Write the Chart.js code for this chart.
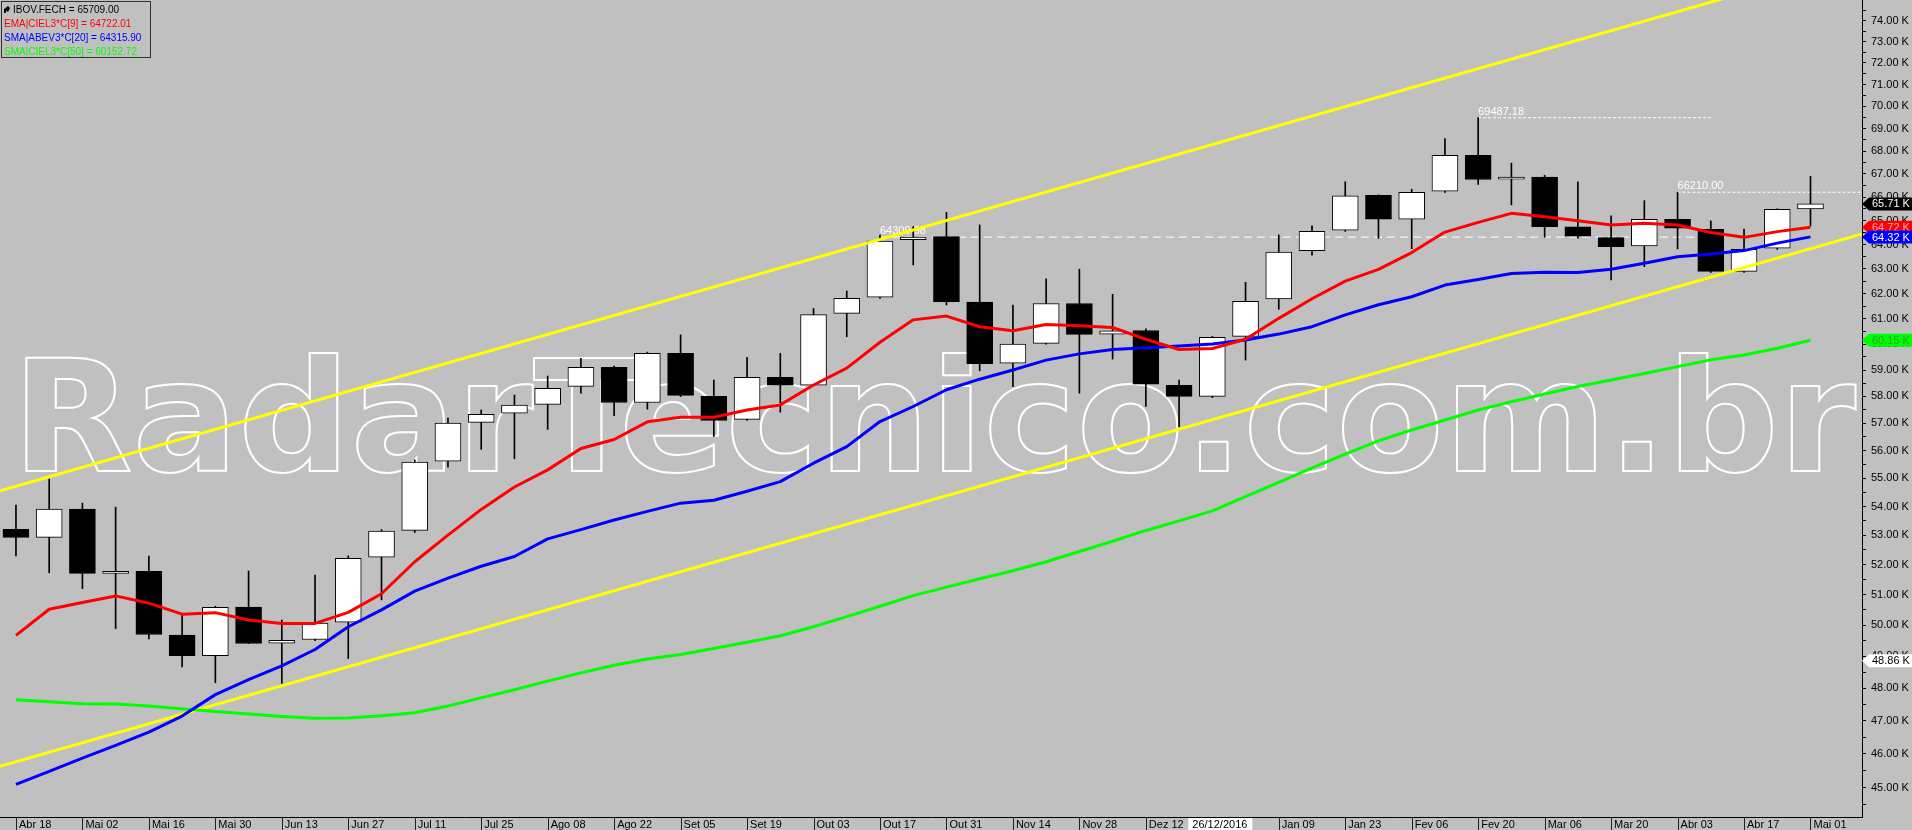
<!DOCTYPE html>
<html>
<head>
<meta charset="utf-8">
<script src="https://cdn.jsdelivr.net/npm/chart.js@4.4.0/dist/chart.umd.min.js"></script>
<style>
  html, body { margin: 0; padding: 0; background: #c0c0c0; }
  canvas { display: block; }
</style>
</head>
<body>
<canvas id="myChart" width="1912" height="830"></canvas>
<script>
// Semanas (candles semanais do IBOV)
const weeks = ['Abr 18','Abr 25','Mai 02','Mai 09','Mai 16','Mai 23','Mai 30','Jun 06','Jun 13','Jun 20','Jun 27','Jul 04','Jul 11','Jul 18','Jul 25','Ago 01','Ago 08','Ago 15','Ago 22','Ago 29','Set 05','Set 12','Set 19','Set 26','Out 03','Out 10','Out 17','Out 24','Out 31','Nov 07','Nov 14','Nov 21','Nov 28','Dez 05','Dez 12','Dez 19','Dez 26','Jan 02','Jan 09','Jan 16','Jan 23','Jan 30','Fev 06','Fev 13','Fev 20','Fev 27','Mar 06','Mar 13','Mar 20','Mar 27','Abr 03','Abr 10','Abr 17','Abr 24','Mai 01'];

// valores em milhares de pontos (K)
const openK  = [53.21,52.93,53.91,51.71,51.78,49.68,49.02,50.59,49.42,49.54,50.10,52.26,53.17,55.61,57.03,57.37,57.70,58.38,59.10,57.77,59.64,58.00,57.14,58.72,58.42,61.21,61.85,64.20,64.33,61.66,59.26,60.03,61.60,60.39,60.53,58.42,58.00,60.30,61.78,63.75,64.60,66.08,65.06,66.25,67.81,66.77,66.86,64.74,64.29,63.94,65.06,64.64,62.90,63.85,65.50];
const highK  = [54.05,54.97,54.12,53.98,52.29,50.36,50.62,51.79,50.17,51.65,52.30,53.20,55.66,57.19,57.49,58.05,58.77,59.45,59.15,59.69,60.36,58.62,59.49,59.64,61.40,62.10,64.40,64.75,65.35,64.82,61.54,62.59,62.99,61.97,60.60,58.62,60.30,62.45,64.40,64.78,66.66,66.10,66.34,68.55,69.49,67.47,66.94,66.66,65.20,65.85,66.21,64.99,64.65,65.50,66.90];
const lowK   = [52.30,51.73,51.20,49.89,49.56,48.67,48.17,49.41,48.15,49.50,48.93,50.83,53.10,55.40,56.04,55.70,56.77,58.12,57.28,57.52,57.99,56.51,57.10,57.41,58.40,60.29,61.80,63.16,61.54,58.97,58.37,60.00,58.12,59.42,57.62,56.86,57.95,59.38,61.37,63.56,64.55,64.26,63.83,66.20,66.55,65.67,64.30,64.27,62.55,63.09,63.82,62.85,62.85,63.80,64.78];
const closeK = [52.93,53.91,51.71,51.78,49.70,49.02,50.58,49.41,49.51,50.07,52.22,53.15,55.58,57.00,57.33,57.67,58.30,59.10,57.77,59.64,58.04,57.10,58.72,58.42,61.16,61.81,64.15,64.31,61.67,59.24,60.00,61.60,60.38,60.52,58.46,58.00,60.26,61.69,63.69,64.55,66.06,65.06,66.21,67.81,66.76,66.86,64.75,64.35,63.91,65.06,64.68,62.90,63.80,65.48,65.71];

// medias moveis
const ema9  = [49.67,50.52,50.74,50.96,50.72,50.36,50.41,50.17,50.06,50.06,50.42,51.03,52.10,53.01,53.90,54.69,55.30,56.07,56.40,57.05,57.22,57.22,57.49,57.68,58.43,59.07,60.07,60.95,61.10,60.68,60.52,60.77,60.72,60.65,60.19,59.79,59.83,60.19,61.01,61.79,62.50,62.98,63.67,64.52,64.93,65.31,65.17,65.00,64.82,64.89,64.82,64.50,64.30,64.54,64.72];
const sma20 = [45.10,45.48,45.87,46.25,46.65,47.14,47.80,48.27,48.70,49.22,49.95,50.50,51.12,51.55,51.95,52.28,52.88,53.20,53.53,53.83,54.12,54.22,54.54,54.88,55.54,56.14,57.06,57.62,58.25,58.65,59.00,59.38,59.62,59.79,59.86,59.93,60.00,60.16,60.39,60.68,61.15,61.55,61.87,62.34,62.57,62.81,62.86,62.85,62.98,63.23,63.50,63.61,63.75,64.06,64.32];
const sma50 = [47.64,47.58,47.52,47.51,47.45,47.36,47.28,47.20,47.13,47.07,47.08,47.15,47.24,47.45,47.70,47.95,48.22,48.48,48.72,48.92,49.06,49.25,49.45,49.66,49.95,50.28,50.62,50.97,51.25,51.53,51.80,52.10,52.45,52.80,53.17,53.50,53.85,54.35,54.85,55.37,55.87,56.35,56.75,57.12,57.49,57.80,58.09,58.37,58.62,58.87,59.13,59.39,59.58,59.84,60.15];

// canal (linhas amarelas): extremos em indice de semana e preco
const channelX      = [-0.48, 55.55];
const channelTop    = [54.55, 77.02];
const channelBottom = [45.63, 64.44];

// niveis tracejados
const levelText  = ['64309.98', '69487.18', '66210.00'];
const levelValue = [64.30998, 69.48718, 66.21];
const levelFrom  = [26, 44, 50];
const levelTo    = [51, 51, 55.55];

const priceTicks = [45,46,47,48,49,50,51,52,53,54,55,56,57,58,59,60,61,62,63,64,65,66,67,68,69,70,71,72,73,74];
const legendText = ['IBOV.FECH = 65709.00', 'EMA|CIEL3*C[9] = 64722.01', 'SMA|ABEV3*C[20] = 64315.90', 'SMA|CIEL3*C[50] = 60152.72'];
const tagValue = [65.709, 64.72201, 64.3159, 60.15272, 48.86];
const crossDate = '26/12/2016';
const crossIndex = 36;

const FONT = '"Liberation Sans", Arial, sans-serif';
const xTicks = weeks.map((w, i) => i).filter(i => i % 2 === 0);
const yTicks = priceTicks.concat(priceTicks.map(v => v - 0.5), [74.5]).sort((a, b) => a - b);

const upColor = closeK.map((c, i) => c >= openK[i] ? '#ffffff' : '#000000');

function lineSet(values, color) {
    return {
        type: 'line',
        data: values.map((v, i) => ({ x: i, y: v })),
        borderColor: color,
        borderWidth: 3,
        pointRadius: 0,
        tension: 0,
        borderJoinStyle: 'round',
        order: 0
    };
}

function levelSet(k, dash) {
    return {
        type: 'line',
        data: [{ x: levelFrom[k], y: levelValue[k] }, { x: levelTo[k], y: levelValue[k] }],
        borderColor: '#ffffff',
        borderWidth: 1,
        borderDash: dash,
        pointRadius: 0,
        order: 3
    };
}

function tag(ctx, y, bg, fg, text) {
    ctx.save();
    ctx.beginPath();
    ctx.moveTo(1862, y);
    ctx.lineTo(1869, y - 6.5);
    ctx.lineTo(1912, y - 6.5);
    ctx.lineTo(1912, y + 6.5);
    ctx.lineTo(1869, y + 6.5);
    ctx.closePath();
    ctx.fillStyle = bg;
    ctx.fill();
    ctx.fillStyle = fg;
    ctx.font = '11px ' + FONT;
    ctx.textBaseline = 'middle';
    ctx.textAlign = 'left';
    ctx.fillText(text, 1872, y + 0.5);
    ctx.restore();
}

// desenhos extras: fundo, marca d'agua, legenda, etiquetas
const extras = {
    id: 'extras',
    beforeDraw(chart) {
        const ctx = chart.ctx;
        ctx.save();
        ctx.fillStyle = '#c0c0c0';
        ctx.fillRect(0, 0, chart.width, chart.height);
        ctx.restore();
    },
    beforeDatasetsDraw(chart) {
        const ctx = chart.ctx;
        const x = chart.scales.x, y = chart.scales.y;
        ctx.save();
        ctx.font = 'bold 155px "DejaVu Sans", sans-serif';
        const w = ctx.measureText('RadarTecnico.com.br').width;
        ctx.translate(12, 471);
        ctx.scale(1844 / w, 1);
        ctx.strokeStyle = '#ffffff';
        ctx.lineWidth = 2;
        ctx.strokeText('RadarTecnico.com.br', 0, 0);
        ctx.restore();

        ctx.save();
        ctx.font = '11px ' + FONT;
        ctx.fillStyle = '#ffffff';
        ctx.textBaseline = 'bottom';
        levelText.forEach((t, k) => {
            ctx.fillText(t, x.getPixelForValue(levelFrom[k]), y.getPixelForValue(levelValue[k]) - 0.5);
        });
        ctx.restore();
    },
    afterDraw(chart) {
        const ctx = chart.ctx;
        const x = chart.scales.x, y = chart.scales.y;
        const area = chart.chartArea;

        // separadores do eixo de datas
        ctx.save();
        ctx.strokeStyle = '#202020';
        ctx.lineWidth = 1;
        xTicks.forEach(i => {
            if (i === crossIndex) return;
            const px = Math.round(x.getPixelForValue(i)) + 0.5;
            ctx.beginPath();
            ctx.moveTo(px, area.bottom);
            ctx.lineTo(px, chart.height);
            ctx.stroke();
        });
        const cx = x.getPixelForValue(crossIndex);
        ctx.fillStyle = '#ffffff';
        ctx.fillRect(cx - 24, area.bottom + 1, 64, chart.height - area.bottom - 1);
        ctx.fillStyle = '#000000';
        ctx.font = '11px ' + FONT;
        ctx.textBaseline = 'middle';
        ctx.fillText(crossDate, cx - 20, area.bottom + 7.5);
        ctx.restore();

        // etiquetas de preco no eixo
        const fmt = v => v.toFixed(2) + ' K';
        tag(ctx, y.getPixelForValue(tagValue[0]), '#000000', '#ffffff', fmt(tagValue[0]));
        tag(ctx, y.getPixelForValue(tagValue[1]), '#ff0000', '#ffb0b0', fmt(tagValue[1]));
        tag(ctx, y.getPixelForValue(tagValue[2]), '#0000ff', '#ffffff', fmt(tagValue[2]));
        tag(ctx, y.getPixelForValue(tagValue[3]), '#00ff00', '#30a030', fmt(tagValue[3]));
        tag(ctx, y.getPixelForValue(tagValue[4]), '#ffffff', '#000000', fmt(tagValue[4]));

        // legenda no canto
        ctx.save();
        ctx.strokeStyle = '#303030';
        ctx.lineWidth = 1;
        ctx.strokeRect(1.5, 1.5, 149, 56);
        ctx.fillStyle = '#000000';
        ctx.beginPath();
        ctx.moveTo(4, 9);
        ctx.lineTo(8, 6);
        ctx.lineTo(10, 8);
        ctx.lineTo(8, 12);
        ctx.closePath();
        ctx.fill();
        ctx.fillRect(4, 9, 2, 4);
        ctx.font = '10px ' + FONT;
        ctx.textBaseline = 'middle';
        const colors = ['#000000', '#ff0000', '#0000ff', '#00ff00'];
        legendText.forEach((t, k) => {
            ctx.fillStyle = colors[k];
            ctx.fillText(t, k === 0 ? 13 : 4, 10 + k * 14);
        });
        ctx.restore();
    }
};

const Grafico = document.getElementById('myChart');
new Chart(Grafico, {
    type: 'bar',
    data: {
        datasets: [
            lineSet(ema9, '#ff0000'),
            lineSet(sma20, '#0000ff'),
            lineSet(sma50, '#00ff00'),
            {
                type: 'line',
                data: channelX.map((v, i) => ({ x: v, y: channelTop[i] })),
                borderColor: '#ffff00', borderWidth: 3, pointRadius: 0, order: 0
            },
            {
                type: 'line',
                data: channelX.map((v, i) => ({ x: v, y: channelBottom[i] })),
                borderColor: '#ffff00', borderWidth: 3, pointRadius: 0, order: 0
            },
            {
                // corpos dos candles
                type: 'bar',
                data: closeK.map((c, i) => ({ x: i, y: [openK[i], c] })),
                backgroundColor: upColor,
                borderColor: '#000000',
                borderWidth: 1,
                borderSkipped: false,
                barThickness: 26,
                grouped: false,
                order: 1
            },
            {
                // pavios
                type: 'bar',
                data: highK.map((h, i) => ({ x: i, y: [lowK[i], h] })),
                backgroundColor: '#000000',
                barThickness: 1,
                grouped: false,
                order: 2
            },
            levelSet(0, [8, 5]),
            levelSet(1, [3, 2]),
            levelSet(2, [3, 2])
        ]
    },
    options: {
        responsive: false,
        animation: false,
        devicePixelRatio: 1,
        layout: { padding: 0 },
        plugins: { legend: { display: false }, tooltip: { enabled: false } },
        scales: {
            x: {
                type: 'linear',
                position: 'bottom',
                offset: false,
                min: channelX[0],
                max: channelX[1],
                afterBuildTicks: s => { s.ticks = xTicks.map(v => ({ value: v })); },
                afterFit: s => { s.height = 13; s.paddingLeft = 0; s.paddingRight = 0; },
                ticks: {
                    autoSkip: false, maxRotation: 0, minRotation: 0,
                    align: 'start', labelOffset: 3, padding: 1,
                    color: '#000000', font: { family: FONT, size: 11 },
                    callback: v => v === crossIndex ? '' : weeks[v]
                },
                grid: { drawOnChartArea: false, drawTicks: false, offset: false },
                border: { display: true, color: '#000000', width: 1 }
            },
            y: {
                type: 'logarithmic',
                position: 'right',
                min: 44.153,
                max: 75.0,
                afterBuildTicks: s => { s.ticks = yTicks.map(v => ({ value: v })); },
                afterFit: s => { s.width = 50; s.paddingTop = 0; s.paddingBottom = 0; },
                ticks: {
                    autoSkip: false, padding: 5,
                    color: '#000000', font: { family: FONT, size: 11 },
                    callback: v => Number.isInteger(v) ? v.toFixed(2) + ' K' : ''
                },
                grid: { drawOnChartArea: false, drawTicks: true, tickLength: 4, tickColor: '#000000' },
                border: { display: true, color: '#000000', width: 1 }
            }
        }
    },
    plugins: [extras]
});
</script>
</body>
</html>
